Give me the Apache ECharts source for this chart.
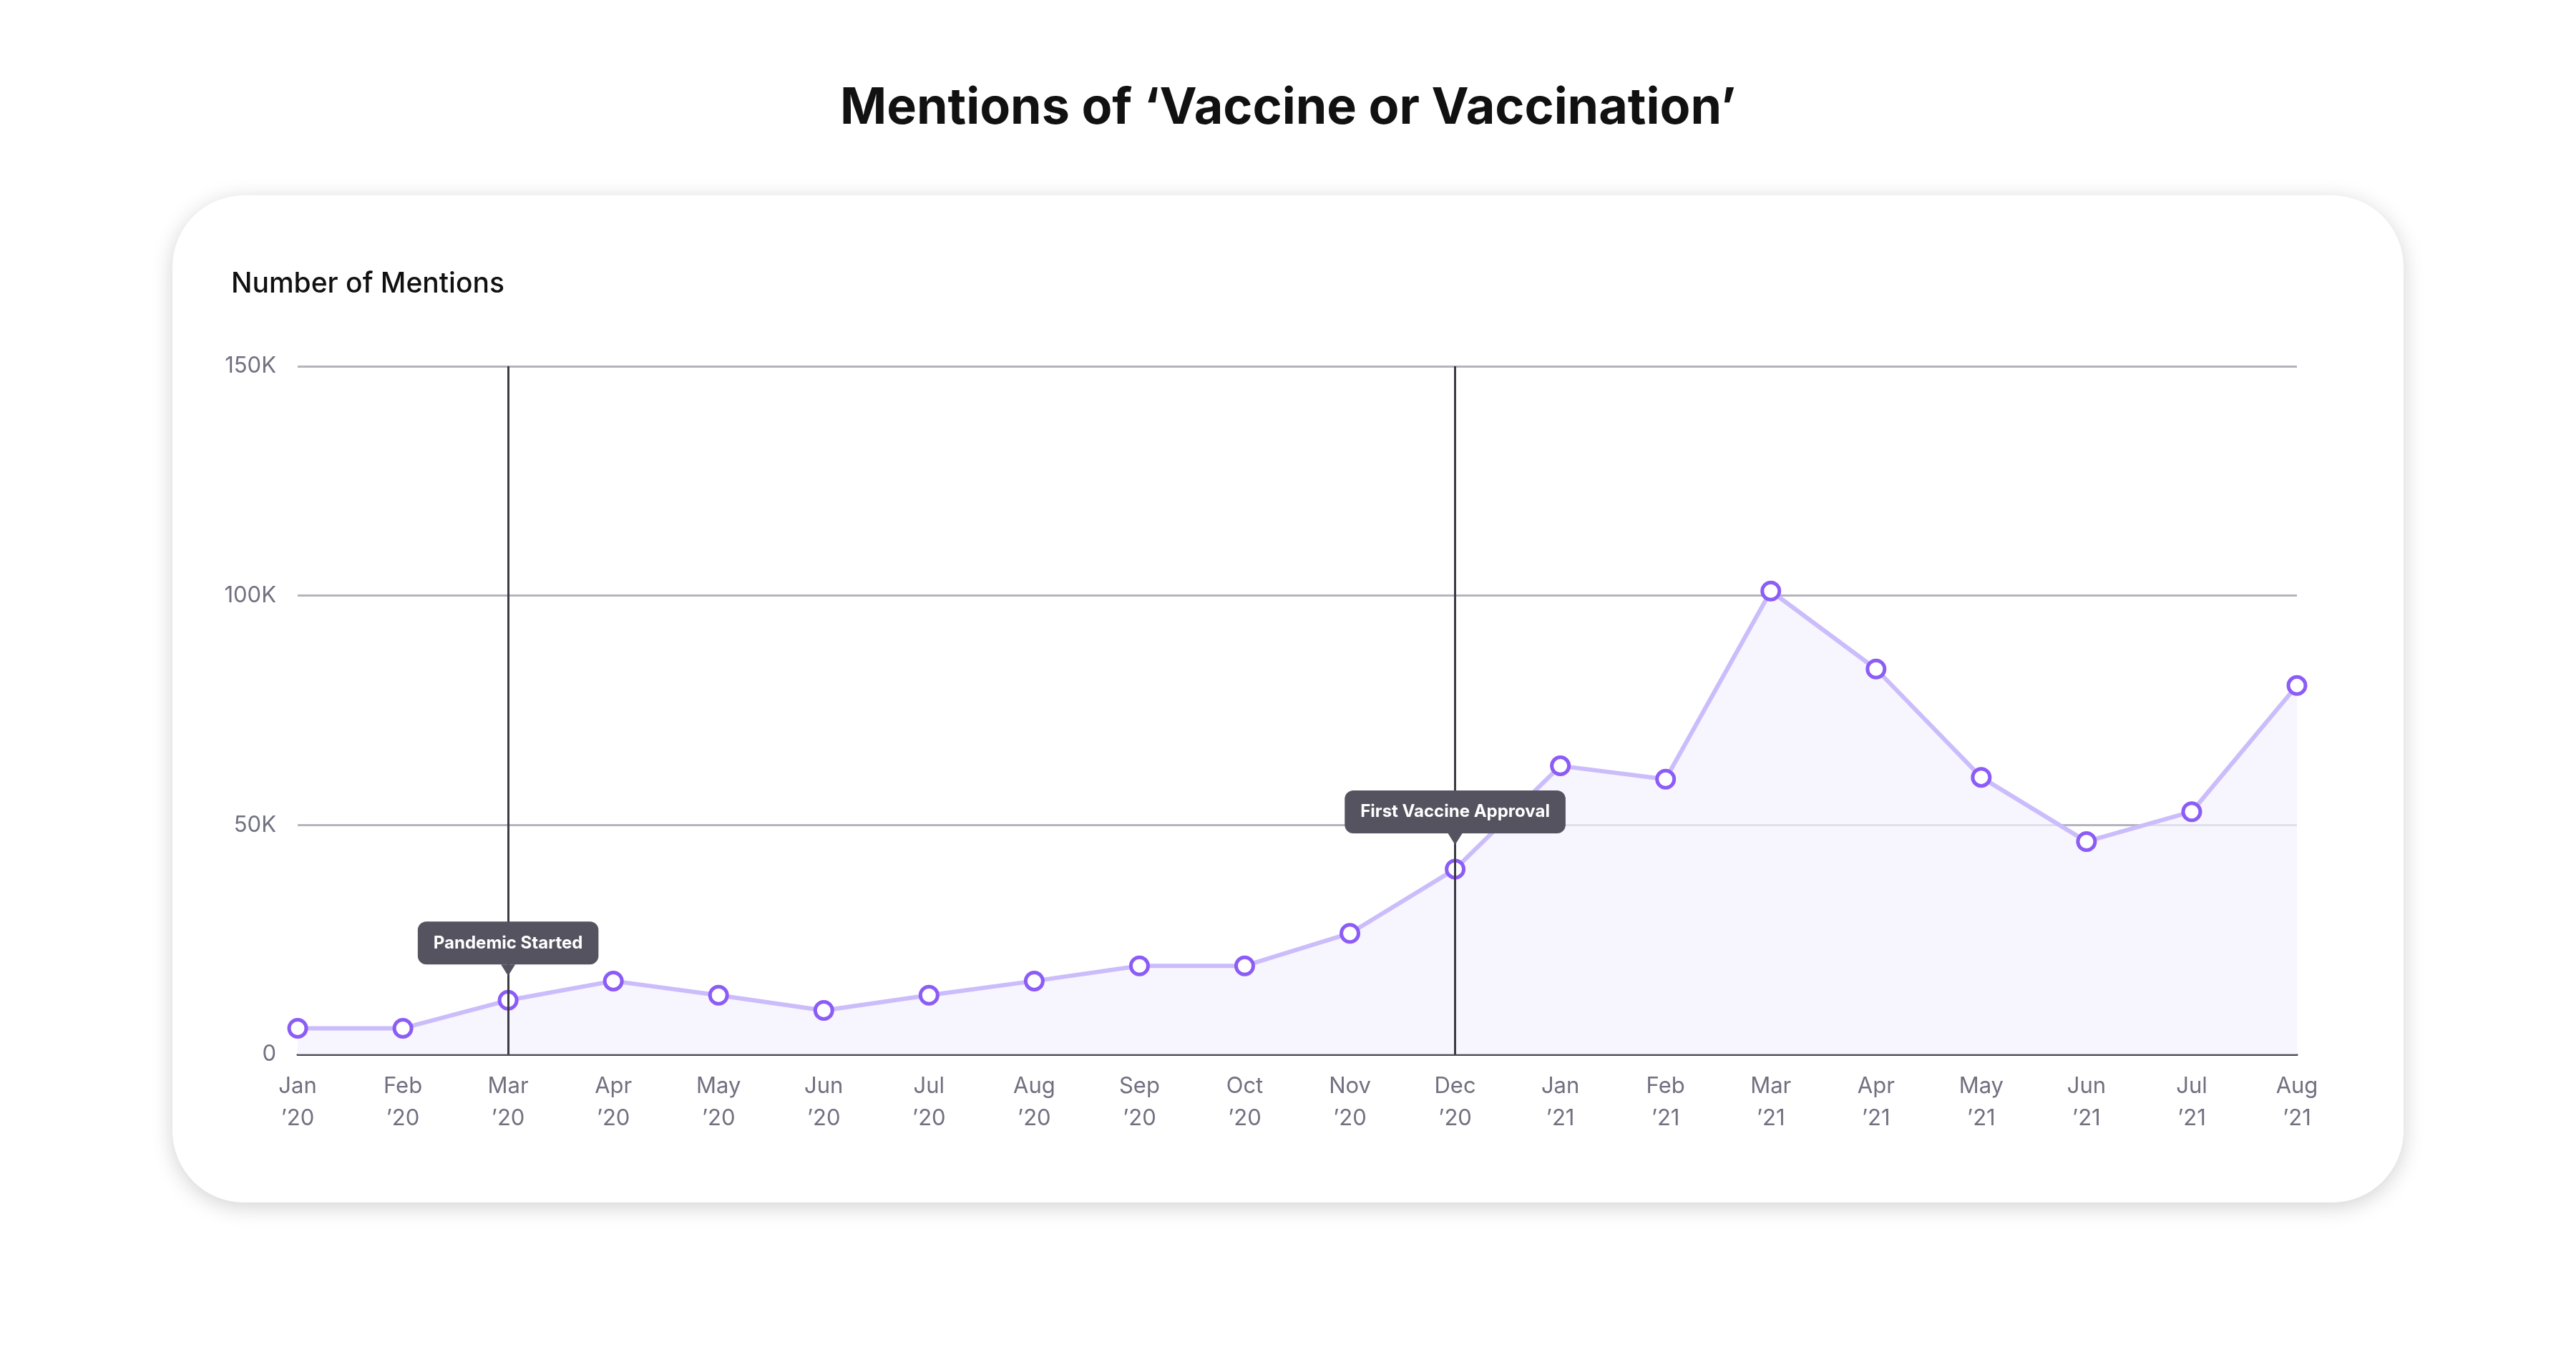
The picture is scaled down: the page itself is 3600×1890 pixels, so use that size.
<!DOCTYPE html>
<html><head><meta charset="utf-8">
<script src="https://cdn.jsdelivr.net/npm/echarts@6/dist/echarts.min.js"></script>
<style>html,body{margin:0;padding:0;background:#fff}#c{width:3600px;height:1890px}</style>
</head><body><div id="c"></div>
<script>
const categories = ["Jan\n’20","Feb\n’20","Mar\n’20","Apr\n’20","May\n’20","Jun\n’20","Jul\n’20","Aug\n’20","Sep\n’20","Oct\n’20","Nov\n’20","Dec\n’20","Jan\n’21","Feb\n’21","Mar\n’21","Apr\n’21","May\n’21","Jun\n’21","Jul\n’21","Aug\n’21"];
const mentions = [5700,5700,11800,16000,12900,9600,12900,16000,19300,19300,26400,40400,62900,60000,101000,84000,60400,46400,52900,80400];
const events = [{cat:"Mar\n’20", label:"Pandemic Started"},{cat:"Dec\n’20", label:"First Vaccine Approval"}];

const chart = echarts.init(document.getElementById('c'));
const idx = c => categories.indexOf(c);
chart.setOption({
  backgroundColor:'#fff',
  textStyle:{fontFamily:'Inter'},
  title:{text:'Mentions of ‘Vaccine or Vaccination’',left:'center',top:112,
    textStyle:{fontFamily:'Inter',fontSize:70,fontWeight:'bold',color:'#111'}},
  graphic:[{type:'rect',z:-10,shape:{x:241,y:273,width:3118,height:1408,r:100},
    style:{fill:'#fff',shadowBlur:30,shadowColor:'rgba(0,0,0,0.18)',shadowOffsetY:6}},
    {type:'text',left:323,top:378,style:{text:'Number of Mentions',font:'500 39px Inter',fill:'#111'}}],
  grid:{left:416,right:390,top:512,bottom:416},
  xAxis:{type:'category',data:categories,boundaryGap:false,
    axisLine:{lineStyle:{color:'#4a4a55',width:3}},axisTick:{show:false},
    axisLabel:{color:'#707080',fontSize:31,lineHeight:45,margin:22,interval:0}},
  yAxis:{type:'value',min:0,max:150000,interval:50000,
    axisLabel:{color:'#707080',fontSize:31,margin:30,formatter:v=>v===0?'0':(v/1000)+'K'},
    splitLine:{lineStyle:{color:'#b4b4bd',width:3}}},
  series:[{type:'line',data:mentions,symbol:'circle',symbolSize:24,
    lineStyle:{color:'#cbbcfb',width:6},
    itemStyle:{color:'#fff',borderColor:'#8b5cf6',borderWidth:5},
    areaStyle:{color:'#f4f1fd'},z:3,
    markLine:{symbol:'none',silent:true,label:{show:false},
      lineStyle:{color:'#3c3c45',width:3,type:'solid'},
      data:events.map(e=>[{coord:[e.cat,0]},{coord:[e.cat,150000]}])},
    markPoint:{silent:true,data:events.flatMap(e=>[
      {coord:[e.cat,mentions[idx(e.cat)]],symbol:'triangle',symbolRotate:180,symbolSize:[20,16],symbolOffset:[0,-42],
        itemStyle:{color:'#55535f'},label:{show:false}},
      {coord:[e.cat,mentions[idx(e.cat)]],symbol:'rect',symbolSize:0,
        label:{show:true,formatter:e.label,color:'#fff',fontSize:24,fontWeight:'bold',fontFamily:'Inter',
          backgroundColor:'#55535f',borderRadius:12,padding:[18,22],offset:[0,-80]}}])}
  }]
});
</script></body></html>
